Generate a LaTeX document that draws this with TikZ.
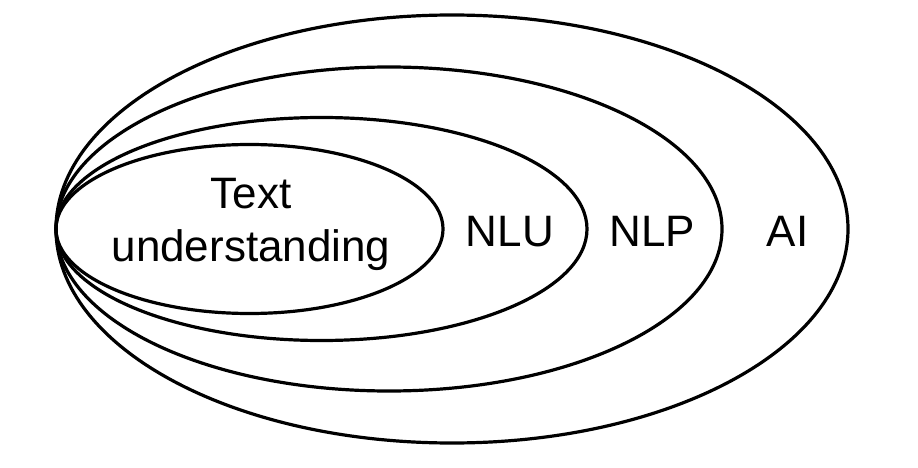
\documentclass[tikz,border=0pt]{standalone}
\usepackage{fontspec}
\setmainfont{Liberation Sans}
\begin{document}
\begin{tikzpicture}[x=1pt,y=-1pt,
    lbl/.style={font=\fontsize{44}{53}\selectfont,align=center,inner sep=0pt}]
    \useasboundingbox (0,0) rectangle (918,468);
    \foreach \cx/\rx/\ry in {452/396/214,389/333/162,321.5/265.5/111.5,249.5/193.5/84.5} {
      \draw[line width=3.2pt] (\cx,229) ellipse [x radius=\rx, y radius=\ry];
    };
    \node[lbl] (text) at (251,224) {Text\\understanding};
    \node[lbl] (nlu) at (510,231.5) {NLU};
    \node[lbl] (nlp) at (652.5,231.5) {NLP};
    \node[lbl] (ai) at (787.5,231.5) {AI};
\end{tikzpicture}
\end{document}
